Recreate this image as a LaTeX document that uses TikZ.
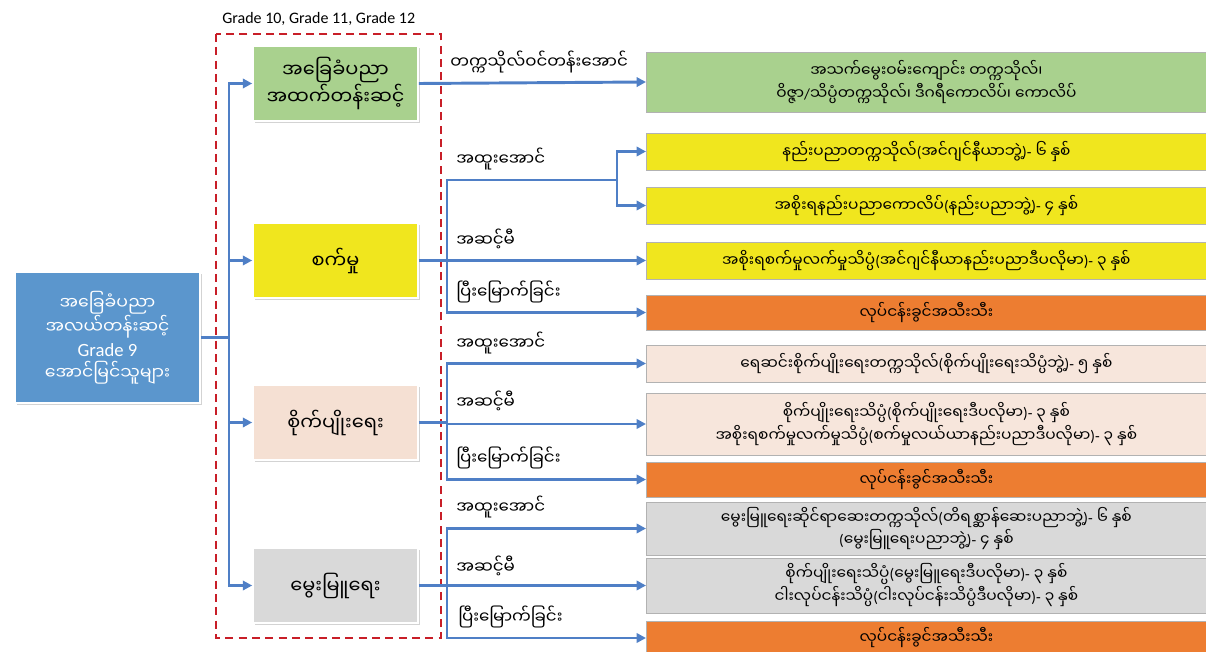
\documentclass[tikz,border=0pt]{standalone}
\usepackage{fontspec}
\setmainfont{Carlito}
\newfontfamily\mmfont[Script=Myanmar]{Noto Sans Myanmar UI}
\usetikzlibrary{shadows,arrows.meta}

% punctuation missing from the Myanmar font
\newcommand{\mlp}{{\normalfont(}}
\newcommand{\mrp}{{\normalfont)}}
\newcommand{\mhy}{{\normalfont-}}
\newcommand{\msl}{{\normalfont/}}

\definecolor{srcblue}{RGB}{91,150,205}
\definecolor{grnfill}{RGB}{169,209,142}
\definecolor{ylwfill}{RGB}{240,230,30}
\definecolor{pnkfill}{RGB}{245,224,211}
\definecolor{gryfill}{RGB}{217,217,217}
\definecolor{orgfill}{RGB}{237,125,49}
\definecolor{linkblue}{RGB}{79,127,198}
\definecolor{gradered}{RGB}{200,30,40}

\begin{document}
\begin{tikzpicture}[x=0.75pt,y=-0.75pt,
    mainbox/.style={rectangle, draw=white, line width=1.2pt, align=center,
        minimum width=123.75pt, minimum height=56.25pt, inner sep=2pt,
        font=\mmfont\fontsize{14.5}{20}\selectfont,
        drop shadow={opacity=0.35, shadow xshift=1.2pt, shadow yshift=-1.2pt}},
    destbox/.style={rectangle, draw=black!30, line width=0.6pt, align=center,
        anchor=west, minimum width=420pt, inner sep=1pt,
        font=\mmfont\fontsize{11.5}{17}\selectfont,
        drop shadow={opacity=0.3, shadow xshift=1pt, shadow yshift=-1pt}},
    lbl/.style={anchor=base west, inner sep=0pt, font=\mmfont\fontsize{12.5}{15}\selectfont},
    link/.style={draw=linkblue, line width=2.2pt},
    arr/.style={link, -{Triangle[length=7pt,width=7pt]}}]
\useasboundingbox (0,0) rectangle (1206,652);

% grade 10-12 frame
\draw[gradered, line width=2pt, dash pattern=on 6pt off 4pt] (216,34) rectangle (441,638);
\node[anchor=base west, inner sep=0pt, font=\fontsize{12}{14}\selectfont] (gradetxt) at (222,24) {Grade 10, Grade 11, Grade 12};

% left box
\node[mainbox, fill=srcblue, text=white, minimum width=138.75pt, minimum height=98.25pt,
      font=\mmfont\fontsize{13}{17}\selectfont] (src) at (107.5,337.5)
      {အခြေခံပညာ\\အလယ်တန်းဆင့်\\{\normalfont\fontsize{14}{17}\selectfont Grade 9}\\အောင်မြင်သူများ};

% grade 10-12 streams
\node[mainbox, fill=grnfill] (grn) at (335.5,83.5) {အခြေခံပညာ\\အထက်တန်းဆင့်};
\node[mainbox, fill=ylwfill] (ind) at (335.5,260.5) {စက်မှု};
\node[mainbox, fill=pnkfill] (agr) at (335.5,422.5) {စိုက်ပျိုးရေး};
\node[mainbox, fill=gryfill] (liv) at (335.5,585.5) {မွေးမြူရေး};

% destinations
\node[destbox, fill=grnfill, minimum height=45pt] (r1) at (646,82)
      {အသက်မွေးဝမ်းကျောင်း တက္ကသိုလ်၊\\ဝိဇ္ဇာ\msl သိပ္ပံတက္ကသိုလ်၊ ဒီဂရီကောလိပ်၊ ကောလိပ်};
\node[destbox, fill=ylwfill, minimum height=27.75pt] (r2) at (646,151.5)
      {နည်းပညာတက္ကသိုလ်\mlp အင်ဂျင်နီယာဘွဲ့\mrp\mhy\ ၆ နှစ်};
\node[destbox, fill=ylwfill, minimum height=27.75pt] (r3) at (646,205.5)
      {အစိုးရနည်းပညာကောလိပ်\mlp နည်းပညာဘွဲ့\mrp\mhy\ ၄ နှစ်};
\node[destbox, fill=ylwfill, minimum height=27.75pt] (r4) at (646,260.5)
      {အစိုးရစက်မှုလက်မှုသိပ္ပံ\mlp အင်ဂျင်နီယာနည်းပညာဒီပလိုမာ\mrp\mhy\ ၃ နှစ်};
\node[destbox, fill=orgfill, minimum height=26.25pt] (r5) at (646,312.5)
      {လုပ်ငန်းခွင်အသီးသီး};
\node[destbox, fill=pnkfill!80!white, minimum height=27.75pt] (r6) at (646,363.5)
      {ရေဆင်းစိုက်ပျိုးရေးတက္ကသိုလ်\mlp စိုက်ပျိုးရေးသိပ္ပံဘွဲ့\mrp\mhy\ ၅ နှစ်};
\node[destbox, fill=pnkfill!80!white, minimum height=46.5pt] (r7) at (646,424)
      {စိုက်ပျိုးရေးသိပ္ပံ\mlp စိုက်ပျိုးရေးဒီပလိုမာ\mrp\mhy\ ၃ နှစ်\\အစိုးရစက်မှုလက်မှုသိပ္ပံ\mlp စက်မှုလယ်ယာနည်းပညာဒီပလိုမာ\mrp\mhy\ ၃ နှစ်};
\node[destbox, fill=orgfill, minimum height=26.25pt] (r8) at (646,479.5)
      {လုပ်ငန်းခွင်အသီးသီး};
\node[destbox, fill=gryfill, minimum height=39.75pt] (r9) at (646,528.5)
      {မွေးမြူရေးဆိုင်ရာဆေးတက္ကသိုလ်\mlp တိရစ္ဆာန်ဆေးပညာဘွဲ့\mrp\mhy\ ၆ နှစ်\\\mlp မွေးမြူရေးပညာဘွဲ့\mrp\mhy\ ၄ နှစ်};
\node[destbox, fill=gryfill, minimum height=41.25pt] (r10) at (646,585.5)
      {စိုက်ပျိုးရေးသိပ္ပံ\mlp မွေးမြူရေးဒီပလိုမာ\mrp\mhy\ ၃ နှစ်\\ငါးလုပ်ငန်းသိပ္ပံ\mlp ငါးလုပ်ငန်းသိပ္ပံဒီပလိုမာ\mrp\mhy\ ၃ နှစ်};
\node[destbox, fill=orgfill, minimum height=25.5pt] (r11) at (646,638)
      {လုပ်ငန်းခွင်အသီးသီး};

% bus and trunks
\coordinate (bus) at (229,0);
\coordinate (tk) at (447,0);
\coordinate (ysplit) at (617,180);

\draw[link] (src.east) -- (src.east -| bus);
\foreach \b in {grn,ind,agr,liv}
    \draw[arr] (src.east -| bus) |- (\b.west);

\draw[arr] (grn.east) -- (r1.west);

\draw[link] (ind.east) -- (ind.east -| tk) |- (ysplit);
\draw[arr] (ysplit) |- (r2.west);
\draw[arr] (ysplit) |- (r3.west);
\draw[arr] (ind.east) -- (r4.west);
\draw[arr] (ind.east -| tk) |- (r5.west);

\draw[link] (agr.east) -- (agr.east -| tk);
\foreach \r in {r6,r7,r8}
    \draw[arr] (agr.east -| tk) |- (\r.west);

\draw[link] (liv.east) -- (liv.east -| tk);
\foreach \r in {r9,r10,r11}
    \draw[arr] (liv.east -| tk) |- (\r.west);

% labels
\node[lbl] (lunv) at (450,69) {တက္ကသိုလ်ဝင်တန်းအောင်};
\node[lbl] (lyds) at (456,166) {အထူးအောင်};
\node[lbl] (lypa) at (456,247) {အဆင့်မီ};
\node[lbl] (lyco) at (456,299) {ပြီးမြောက်ခြင်း};
\node[lbl] (lpds) at (456,349) {အထူးအောင်};
\node[lbl] (lppa) at (456,408) {အဆင့်မီ};
\node[lbl] (lpco) at (456,464) {ပြီးမြောက်ခြင်း};
\node[lbl] (lgds) at (456,513) {အထူးအောင်};
\node[lbl] (lgpa) at (456,573) {အဆင့်မီ};
\node[lbl] (lgco) at (458,623) {ပြီးမြောက်ခြင်း};
\end{tikzpicture}
\end{document}
